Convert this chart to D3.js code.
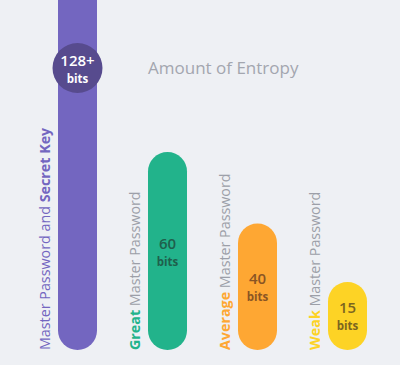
<!DOCTYPE html>
<html><head><meta charset="utf-8">
<script src="https://cdn.jsdelivr.net/npm/d3@7"></script>
<style>body{margin:0;background:#eef0f4;}svg{display:block;}</style>
</head><body>
<script>
const categories = ["Master Password and Secret Key","Great Master Password","Average Master Password","Weak Master Password"];
const boldWords = ["Secret Key","Great","Average","Weak"];
const values = [128, 60, 40, 15];
const valueLabels = ["128+","60","40","15"];
const unitLabel = "bits";
const title = "Amount of Entropy";
const colors = ["#7366c0","#22b38b","#fea733","#fdd325"];
const textColors = ["#ffffff","#1f5f4c","#8a5524","#7b6520"];
const labelColors = ["#7366c0","#22b38b","#fea733","#fdd325"];

const W=400,H=365;
const svg=d3.select("body").append("svg").attr("width",W).attr("height",H);
svg.append("rect").attr("width",W).attr("height",H).attr("fill","#eef0f4");

const baseY=350, bw=39;
const x=d3.scalePoint().domain(categories).range([77.5,347.5]);
const y=d3.scalePow().exponent(1.7).domain([0,60]).range([295.5,152]);
const font="'Open Sans', sans-serif";

svg.append("text").attr("x",148).attr("y",74).attr("fill","#a3a6af")
  .attr("font-family",font).attr("font-size",17).text(title);

categories.forEach((c,i)=>{
  const cx=x(c), top=y(values[i]), r=bw/2;
  const left=cx-bw/2;
  const p=d3.path();
  if(i===0){
    p.moveTo(left,top); p.lineTo(left+bw,top);
  } else {
    p.moveTo(left,top+r); p.arc(cx,top+r,r,Math.PI,0);
  }
  p.lineTo(left+bw,baseY-r);
  p.arc(cx,baseY-r,r,0,Math.PI);
  p.closePath();
  svg.append("path").attr("d",p.toString()).attr("fill",colors[i]);

  const lx=cx-bw/2-8;
  const t=svg.append("text").attr("transform",`translate(${lx},${baseY}) rotate(-90)`)
    .attr("font-family",font).attr("font-size",14.3);
  const bold=boldWords[i];
  const idx=c.indexOf(bold);
  const pre=c.slice(0,idx), post=c.slice(idx+bold.length);
  if(pre) t.append("tspan").attr("fill",labelColors[i]).text(pre);
  t.append("tspan").attr("fill",labelColors[i]).attr("font-weight",700).text(bold);
  if(post) t.append("tspan").attr("fill","#9c9fa8").text(post);

  let vy;
  if(i===0){
    vy=68;
    svg.append("circle").attr("cx",cx).attr("cy",vy).attr("r",25).attr("fill","#574b8e");
  } else {
    vy=(top+baseY)/2;
  }
  svg.append("text").attr("x",cx).attr("y",vy-2.5).attr("text-anchor","middle")
    .attr("font-family",font).attr("font-size",15).attr("font-weight",600)
    .attr("fill",textColors[i]).text(valueLabels[i]);
  svg.append("text").attr("x",cx).attr("y",vy+14.5).attr("text-anchor","middle")
    .attr("font-family",font).attr("font-size",11.5).attr("font-weight",700)
    .attr("fill",textColors[i]).text(unitLabel);
});
</script>
</body></html>
